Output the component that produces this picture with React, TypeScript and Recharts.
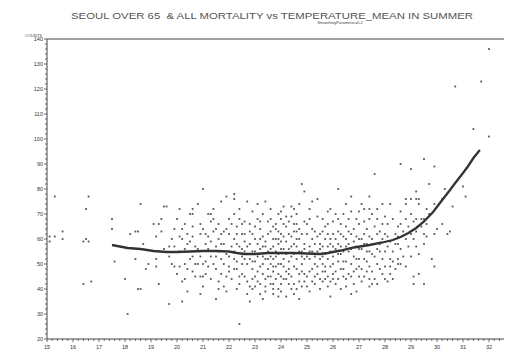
import { ScatterChart, Scatter, XAxis, YAxis, ReferenceLine } from "recharts";

// observed days: [mean temperature, deaths]
const coolDays = [
  [15.1, 61], [15.1, 59], [15.3, 77], [15.3, 61], [15.6, 63], [15.6, 60],
  [16.4, 59], [16.5, 72], [16.5, 60], [16.6, 77], [16.6, 59], [16.4, 42], [16.7, 43],
  [17.5, 68], [17.5, 64], [17.6, 51], [18.0, 44], [18.1, 30], [18.5, 40], [18.6, 40],
  [18.2, 62], [18.4, 63], [18.5, 63], [18.6, 74], [18.7, 58], [18.4, 52], [18.8, 48], [18.9, 50],
];

const mildDays = [
  [19.1, 66], [19.3, 66], [19.4, 68], [19.5, 73], [19.4, 63], [19.2, 61], [19.2, 52], [19.2, 49],
  [19.3, 42], [19.7, 34], [19.7, 57], [19.6, 73], [20.1, 72], [20.6, 72], [20.6, 70], [20.8, 74],
  [20.5, 70], [21.0, 80], [21.3, 70], [21.4, 72], [21.7, 75], [21.9, 77], [20.0, 68], [19.9, 64],
  [20.1, 61], [20.2, 60], [20.4, 62], [20.6, 65], [20.9, 62], [21.0, 64], [21.2, 61], [21.3, 67],
  [21.4, 68], [21.5, 64], [21.6, 60], [21.7, 62], [21.9, 64], [19.7, 53], [19.8, 50], [19.9, 49],
  [20.1, 49], [20.3, 50], [20.4, 48], [20.6, 53], [20.6, 47], [20.9, 45], [21.0, 45], [21.2, 49],
  [21.4, 50], [20.2, 43], [20.4, 39], [20.2, 35], [21.0, 41], [20.9, 38], [21.5, 36], [21.6, 40],
  [21.8, 41], [21.9, 45], [19.5, 56], [19.9, 57], [20.3, 56], [20.7, 57], [20.9, 53], [21.1, 58],
  [21.3, 53], [21.5, 57], [21.7, 52], [21.8, 58], [20.5, 59], [21.1, 51], [19.8, 60], [20.8, 50],
  [21.6, 55], [20.0, 46], [20.1, 55], [20.2, 64], [20.3, 44], [20.4, 58], [20.5, 52], [20.6, 61],
  [20.7, 45], [20.8, 56], [20.9, 66], [21.0, 50], [21.1, 62], [21.1, 46], [21.2, 56], [21.3, 44],
  [21.3, 59], [21.4, 63], [21.5, 48], [21.5, 53], [21.6, 66], [21.7, 46], [21.7, 58], [21.8, 50],
  [21.8, 63], [21.9, 54], [21.9, 39], [20.3, 66], [20.7, 50], [21.2, 70], [21.6, 43],
];

const warmDays = [
  [22.0, 47], [22.0, 49], [22.2, 52], [22.3, 48], [22.4, 45], [22.4, 42], [22.3, 40], [22.7, 38],
  [22.8, 35], [22.8, 41], [22.9, 44], [23.1, 47], [23.2, 42], [23.4, 39], [23.6, 45], [23.7, 49],
  [23.7, 40], [23.9, 37], [22.5, 50], [22.8, 52], [23.3, 53], [23.8, 53], [22.4, 26],
  [22.2, 78], [22.2, 76], [22.7, 75], [23.1, 74], [23.4, 75], [23.9, 70], [24.4, 73], [24.5, 72],
  [22.0, 68], [22.2, 60], [22.3, 65], [22.4, 68], [22.5, 66], [22.6, 62], [22.8, 66], [22.9, 62],
  [23.1, 68], [23.2, 64], [23.3, 61], [23.5, 67], [23.6, 63], [23.8, 66], [23.9, 60],
  [24.1, 73], [24.7, 74], [24.8, 82], [24.9, 79], [24.0, 68], [24.2, 69], [24.6, 66], [24.9, 67],
  [23.8, 64], [24.0, 62], [24.2, 65], [24.4, 61], [24.5, 63], [24.7, 64], [23.7, 60], [23.9, 58],
  [24.2, 59], [24.5, 58], [24.9, 58], [23.7, 52], [23.9, 50], [23.7, 47], [24.0, 45], [23.7, 42],
  [23.9, 40], [23.7, 38], [24.1, 52], [24.3, 48], [24.2, 44], [24.4, 40], [24.5, 38], [24.7, 36],
  [24.6, 52], [24.8, 50], [24.7, 46], [24.9, 43], [24.5, 42], [22.1, 57], [22.3, 58], [22.5, 56],
  [22.6, 52], [22.7, 57], [22.9, 55], [23.0, 51], [23.1, 58], [23.2, 56], [23.3, 50], [23.4, 57],
  [23.5, 52], [23.6, 56], [23.8, 55], [24.0, 56], [24.1, 49], [24.3, 56], [24.4, 53], [24.6, 57],
  [24.8, 55], [24.9, 52], [22.6, 45], [23.0, 45], [23.4, 44], [23.5, 48], [23.2, 38], [22.9, 48],
  [23.6, 50], [24.3, 46], [24.8, 47], [24.0, 42], [22.5, 62], [23.0, 60], [23.4, 59], [24.1, 61],
  [24.6, 60], [23.3, 70], [23.6, 72], [22.9, 71], [24.3, 67],
  [22.0, 53], [22.0, 62], [22.1, 44], [22.1, 66], [22.2, 48], [22.2, 55], [22.3, 51], [22.3, 62],
  [22.4, 57], [22.4, 72], [22.5, 46], [22.5, 53], [22.6, 59], [22.6, 67], [22.7, 43], [22.7, 50],
  [22.8, 58], [22.8, 63], [22.9, 40], [22.9, 51], [23.0, 55], [23.0, 65], [23.1, 43], [23.1, 53],
  [23.2, 49], [23.2, 60], [23.3, 46], [23.3, 57], [23.4, 41], [23.4, 52], [23.5, 45], [23.5, 55],
  [23.5, 62], [23.6, 42], [23.6, 53], [23.7, 57], [23.7, 65], [23.8, 44], [23.8, 49], [23.8, 60],
  [23.9, 46], [23.9, 54], [24.0, 39], [24.0, 50], [24.0, 59], [24.1, 44], [24.1, 56], [24.1, 66],
  [24.2, 47], [24.2, 54], [24.3, 42], [24.3, 51], [24.3, 62], [24.4, 45], [24.4, 57], [24.4, 69],
  [24.5, 49], [24.5, 54], [24.5, 66], [24.6, 40], [24.6, 48], [24.6, 63], [24.7, 43], [24.7, 55],
  [24.7, 60], [24.8, 41], [24.8, 53], [24.8, 62], [24.9, 46], [24.9, 56], [23.0, 41], [23.3, 36],
  [24.2, 37], [22.6, 55], [23.9, 63], [22.2, 70], [23.2, 67], [24.0, 71], [24.6, 70], [23.6, 68],
];

const hotDays = [
  [25.0, 62], [25.0, 41], [25.1, 72], [25.1, 68], [25.1, 57], [25.1, 52], [25.1, 39], [25.2, 75],
  [25.2, 64], [25.2, 48], [25.3, 42], [25.4, 76], [25.4, 69], [25.4, 61], [25.4, 46], [25.5, 58],
  [25.5, 52], [25.5, 40], [25.6, 68], [25.6, 63], [25.6, 50], [25.6, 47], [25.7, 60], [25.7, 44],
  [25.8, 71], [25.8, 66], [25.8, 57], [25.8, 52], [25.8, 41], [25.9, 72], [25.9, 49], [25.9, 37],
  [26.0, 62], [26.0, 46], [26.1, 70], [26.1, 42], [26.2, 80], [26.2, 68], [26.2, 63], [26.2, 58],
  [26.2, 51], [26.3, 66], [26.3, 48], [26.4, 45], [26.4, 70], [26.5, 65], [26.5, 60], [26.5, 57],
  [26.5, 41], [26.5, 74], [26.6, 63], [26.7, 77], [26.7, 71], [26.7, 50], [26.7, 38], [26.8, 59],
  [26.8, 47], [26.9, 68], [26.9, 61], [26.9, 39], [27.0, 71], [27.0, 49], [27.0, 45], [27.1, 74],
  [27.2, 67], [27.2, 62], [27.2, 52], [27.2, 72], [27.3, 58], [27.3, 47], [27.4, 77], [27.4, 72],
  [27.4, 68], [27.4, 61], [27.4, 44], [27.4, 41], [27.5, 42], [27.6, 86], [27.7, 72], [27.7, 68],
  [27.7, 62], [27.7, 50], [27.7, 42], [27.8, 58], [27.9, 74], [27.9, 66], [27.9, 46], [28.0, 69],
  [28.0, 62], [28.0, 44], [28.1, 66], [28.1, 43], [28.2, 74], [28.2, 49], [28.3, 68], [28.3, 44],
  [28.5, 65], [28.5, 52], [28.5, 50], [25.1, 55], [25.3, 53], [25.5, 56], [25.7, 54], [25.9, 55],
  [26.0, 53], [26.1, 56], [26.3, 54], [26.6, 55], [26.8, 53], [27.0, 56], [27.3, 55], [27.5, 54],
  [27.8, 55], [28.1, 57], [28.3, 55], [25.3, 50], [25.7, 49], [26.4, 51], [26.9, 52], [27.6, 53],
  [28.2, 52], [25.2, 60], [25.9, 60], [26.4, 61], [27.1, 60], [27.6, 65], [28.4, 62], [25.3, 45],
  [26.0, 44], [26.6, 46], [27.1, 43], [25.6, 43], [26.3, 40],
  [25.0, 45], [25.0, 53], [25.0, 66], [25.1, 47], [25.2, 43], [25.2, 55], [25.3, 58], [25.3, 63],
  [25.4, 49], [25.4, 55], [25.5, 44], [25.5, 62], [25.6, 53], [25.6, 57], [25.7, 47], [25.7, 65],
  [25.8, 45], [25.8, 62], [25.9, 43], [25.9, 58], [26.0, 50], [26.0, 57], [26.0, 67], [26.1, 47],
  [26.1, 60], [26.2, 44], [26.2, 54], [26.3, 57], [26.3, 62], [26.4, 48], [26.4, 55], [26.5, 44],
  [26.5, 51], [26.6, 58], [26.6, 68], [26.7, 45], [26.7, 56], [26.7, 62], [26.8, 42], [26.8, 64],
  [26.9, 48], [26.9, 57], [27.0, 52], [27.0, 60], [27.0, 66], [27.1, 48], [27.1, 56], [27.2, 45],
  [27.2, 58], [27.3, 51], [27.3, 64], [27.4, 49], [27.4, 55], [27.5, 47], [27.5, 60], [27.5, 70],
  [27.6, 44], [27.6, 58], [27.7, 56], [27.8, 48], [27.8, 63], [27.9, 52], [27.9, 60], [28.0, 49],
  [28.0, 55], [28.1, 61], [28.2, 46], [28.2, 59], [28.3, 51], [28.4, 58],
];

const heatwaveDays = [
  [28.5, 58], [28.6, 90], [28.6, 71], [28.6, 66], [28.6, 50], [28.8, 76], [28.8, 60], [28.8, 74],
  [28.8, 49], [28.9, 65], [29.0, 88], [29.0, 76], [29.0, 62], [29.1, 67], [29.1, 45], [29.1, 42],
  [29.2, 79], [29.2, 76], [29.2, 68], [29.2, 57], [29.3, 76], [29.3, 74], [29.3, 46], [29.4, 68],
  [29.5, 92], [29.5, 68], [29.5, 58], [29.5, 42], [29.6, 72], [29.6, 61], [29.7, 82], [29.7, 70],
  [29.8, 52], [29.9, 89], [29.9, 74], [29.9, 62], [29.9, 49], [30.0, 64], [30.2, 76], [30.2, 66],
  [30.3, 80], [30.4, 62], [30.5, 63], [30.6, 73], [30.7, 121], [31.0, 81], [31.1, 77], [31.4, 104],
  [31.7, 123], [32.0, 136], [32.0, 101], [32.8, 127], [32.8, 112],
  [28.4, 48], [28.5, 61], [28.6, 56], [28.7, 63], [28.7, 53], [28.8, 68], [28.9, 57], [29.0, 70],
  [29.0, 53], [29.1, 60], [29.2, 63], [29.3, 54], [29.4, 65], [29.5, 62], [29.6, 66],
];

// loess fit, smoothing parameter 0.2
const fitTemps = [
  17.5, 17.8, 18.1, 18.6, 19.1, 19.6, 20.0, 20.5, 21.0, 21.5, 22.0, 22.3, 22.6, 23.0, 23.5, 24.0,
  24.5, 25.0, 25.5, 25.8, 26.3, 26.8, 27.4, 27.9, 28.3, 28.6, 28.9, 29.2, 29.5, 29.85, 30.2, 30.5,
  30.7, 31.0, 31.2, 31.4, 31.65,
];
const fitCounts = [
  57.6, 57.0, 56.4, 56.0, 55.2, 54.8, 54.8, 55.0, 55.2, 55.2, 55.0, 54.4, 54.0, 54.0, 54.4, 54.4,
  54.4, 54.2, 54.0, 54.4, 55.4, 56.6, 57.6, 58.6, 59.6, 60.8, 62.4, 64.4, 67.0, 70.8, 75.6, 79.6,
  82.4, 86.4, 89.2, 92.4, 95.6,
];

const xMajor = [15, 16, 17, 18, 19, 20, 21, 22, 23, 24, 25, 26, 27, 28, 29, 30, 31, 32];
const yMajor = [20, 30, 40, 50, 60, 70, 80, 90, 100, 110, 120, 130, 140];

const days = [...coolDays, ...mildDays, ...warmDays, ...hotDays, ...heatwaveDays].map(([t, n]) => ({ t, n }));
const fit = fitTemps.map((t, i) => ({ t, n: fitCounts[i] }));

const xTicks = xMajor.flatMap((m) => [m, m + 0.2, m + 0.4, m + 0.6, m + 0.8]);
const yTicks = yMajor.flatMap((m) => (m === 140 ? [m] : [m, m + 2, m + 4, m + 6, m + 8]));

const ink = "#444";
const isMajor = (v: number) => Math.abs(v - Math.round(v)) < 1e-6;

const XTick = ({ x, y, payload }: any) => {
  const major = isMajor(payload.value);
  return (
    <g>
      <line x1={x} x2={x} y1={y} y2={y + (major ? 3 : 2)} stroke={ink} strokeWidth={0.8} />
      {major && (
        <text x={x} y={y + 10} textAnchor="middle" fontSize={5.5} fill="#333">
          {payload.value}
        </text>
      )}
    </g>
  );
};

const YTick = ({ x, y, payload }: any) => {
  const major = payload.value % 10 === 0;
  return (
    <g>
      <line x1={x} x2={x - (major ? 3 : 2)} y1={y} y2={y} stroke={ink} strokeWidth={0.8} />
      {major && (
        <text x={x - 4} y={y + 2} textAnchor="end" fontSize={5.5} fill="#333">
          {payload.value}
        </text>
      )}
    </g>
  );
};

const Dot = ({ cx, cy }: any) => <rect x={cx - 0.9} y={cy - 0.9} width={1.8} height={1.8} fill="#555" />;

export default function App() {
  return (
    <div style={{ position: "relative", width: 504, height: 346, overflow: "hidden", fontFamily: "'Liberation Sans', Arial, sans-serif" }}>
      <ScatterChart width={507} height={346} margin={{ top: 31, right: 0, bottom: 0, left: 0 }}>
        <XAxis
          dataKey="t"
          type="number"
          domain={[15, 33]}
          ticks={xTicks}
          interval={0}
          height={15}
          tickSize={0}
          tickMargin={0}
          tick={<XTick />}
          axisLine={{ stroke: ink }}
        />
        <YAxis
          dataKey="n"
          type="number"
          domain={[20, 140]}
          ticks={yTicks}
          interval={0}
          width={39}
          tickSize={0}
          tickMargin={0}
          tick={<YTick />}
          axisLine={{ stroke: ink }}
        />
        <ReferenceLine y={140} stroke={ink} strokeWidth={1} />
        <Scatter data={days} shape={<Dot />} isAnimationActive={false} />
        <Scatter
          data={fit}
          line={{ stroke: "#333", strokeWidth: 2.3 }}
          lineType="joint"
          shape={() => <g />}
          isAnimationActive={false}
        />
      </ScatterChart>
      <svg width={504} height={346} style={{ position: "absolute", left: 0, top: 0, pointerEvents: "none" }}>
        <text x={63} y={10.5} fontSize={9.5} fill="#555" textLength={402} lengthAdjust="spacingAndGlyphs" style={{ whiteSpace: "pre" }}>
          SEOUL OVER 65  &amp; ALL MORTALITY vs TEMPERATURE_MEAN IN SUMMER
        </text>
        <text x={332} y={15.5} fontSize={4} fill="#444" textAnchor="middle">
          SmoothingParameter=0.2
        </text>
        <text x={34} y={28.5} fontSize={4} fill="#444" textAnchor="end">
          COUNTS
        </text>
      </svg>
    </div>
  );
}
